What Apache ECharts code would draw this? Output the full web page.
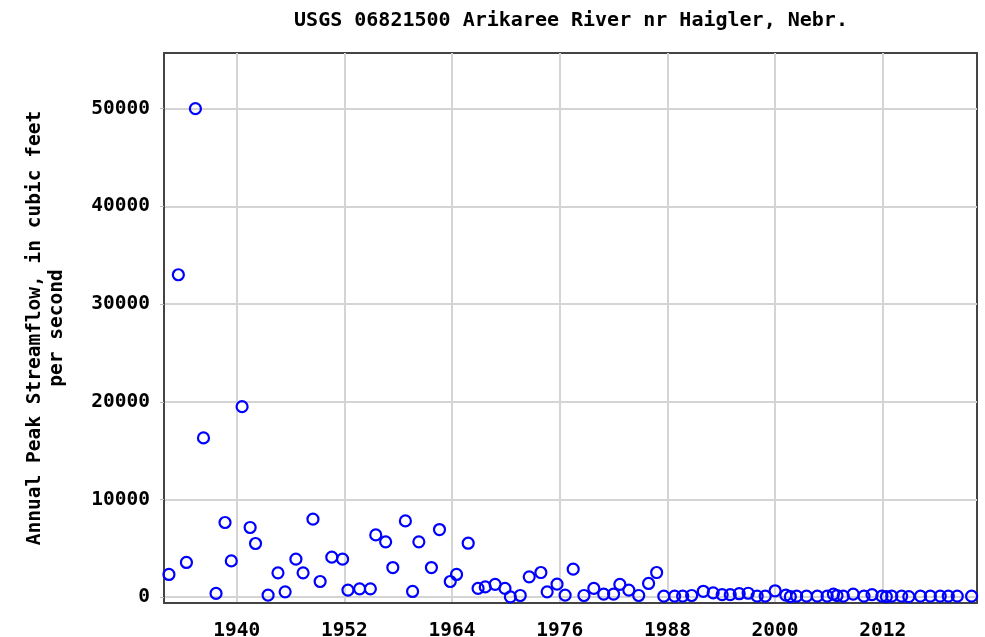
<!DOCTYPE html>
<html>
<head>
<meta charset="utf-8">
<script src="https://cdn.jsdelivr.net/npm/echarts@6/dist/echarts.min.js"></script>
<style>html,body{margin:0;padding:0;background:#fff;}#c{width:985px;height:637px;}</style>
</head>
<body>
<div id="c"></div>
<script>
const titleText = "USGS 06821500 Arikaree River nr Haigler, Nebr.";
const yAxisName = "Annual Peak Streamflow, in cubic feet\nper second";
const xTickValues = [1940, 1952, 1964, 1976, 1988, 2000, 2012];
const yTickValues = [0, 10000, 20000, 30000, 40000, 50000];
const years = [1932.45, 1933.5, 1934.4, 1935.4, 1936.3, 1937.7, 1938.7, 1939.4, 1940.6, 1941.5, 1942.1, 1943.5, 1944.6, 1945.4, 1946.6, 1947.4, 1948.5, 1949.3, 1950.6, 1951.8, 1952.4, 1953.7, 1954.9, 1955.5, 1956.6, 1957.4, 1958.8, 1959.6, 1960.3, 1961.7, 1962.6, 1963.8, 1964.5, 1965.8, 1966.9, 1967.7, 1968.8, 1969.9, 1970.5, 1971.6, 1972.6, 1973.9, 1974.6, 1975.7, 1976.6, 1977.5, 1978.7, 1979.8, 1980.9, 1982.0, 1982.7, 1983.7, 1984.8, 1985.9, 1986.8, 1987.6, 1988.8, 1989.7, 1990.7, 1992.0, 1993.1, 1994.1, 1995.0, 1996.0, 1997.0, 1998.0, 1998.9, 2000.0, 2001.2, 2001.7, 2002.4, 2003.5, 2004.7, 2005.8, 2006.5, 2006.9, 2007.6, 2008.7, 2009.9, 2010.8, 2011.9, 2012.4, 2013.0, 2014.1, 2014.9, 2016.2, 2017.3, 2018.4, 2019.3, 2020.3, 2021.9];
const peaks = [2320, 33000, 3550, 50000, 16300, 380, 7640, 3710, 19500, 7130, 5490, 200, 2490, 540, 3890, 2490, 7980, 1600, 4090, 3890, 720, 850, 850, 6370, 5660, 3030, 7800, 580, 5660, 3030, 6920, 1600, 2320, 5520, 890, 1050, 1300, 890, 30, 170, 2080, 2520, 540, 1330, 200, 2860, 170, 890, 310, 310, 1300, 720, 170, 1400, 2520, 100, 100, 100, 170, 600, 440, 250, 250, 350, 400, 100, 100, 650, 200, 50, 100, 100, 100, 100, 300, 150, 100, 300, 100, 250, 100, 50, 100, 100, 50, 100, 100, 100, 100, 100, 100];

const points = years.map((y, i) => [y, peaks[i]]);
const FONT = "DejaVu Sans Mono";
const plain = v => String(Math.round(v));
const chart = echarts.init(document.getElementById('c'), null, {renderer: 'canvas'});
chart.setOption({
  animation: false,
  backgroundColor: '#ffffff',
  title: {
    text: titleText,
    left: 566, top: 6, textAlign: 'center',
    textStyle: {fontFamily: FONT, fontSize: 20, fontWeight: 'bold', color: '#000'}
  },
  grid: {left: 164, right: 8, top: 53, bottom: 34, containLabel: false, outerBoundsMode: 'none',
    show: true, borderColor: '#444', borderWidth: 2, backgroundColor: 'transparent'},
  xAxis: {
    type: 'value', min: 1931.9, max: 2022.5,
    axisLine: {show: true, onZero: false, lineStyle: {color: '#444', width: 2}},
    axisTick: {show: false, customValues: xTickValues},
    axisLabel: {customValues: xTickValues, formatter: plain, fontFamily: FONT, fontSize: 19.5, fontWeight: 'bold', color: '#000', margin: 18},
    splitLine: {show: true, lineStyle: {color: '#d4d4d4', width: 2}}
  },
  yAxis: {
    type: 'value', min: -600, max: 55700,
    name: yAxisName, nameLocation: 'middle', nameGap: 96, nameRotate: 90,
    nameTextStyle: {fontFamily: FONT, fontSize: 19.5, fontWeight: 'bold', color: '#000', lineHeight: 22, align: 'center'},
    axisLine: {show: true, onZero: false, lineStyle: {color: '#444', width: 2}},
    axisTick: {show: true, customValues: yTickValues, length: 4, lineStyle: {color: '#bbb'}},
    axisLabel: {customValues: yTickValues, formatter: plain, fontFamily: FONT, fontSize: 19.5, fontWeight: 'bold', color: '#000', margin: 14},
    splitLine: {show: true, lineStyle: {color: '#d4d4d4', width: 2}}
  },
  series: [{
    type: 'scatter',
    data: points,
    symbol: 'circle',
    symbolSize: 11,
    itemStyle: {color: 'rgba(0,0,0,0)', borderColor: '#0000ff', borderWidth: 2.2, opacity: 1},
    emphasis: {disabled: true}
  }]
});
</script>
</body>
</html>
